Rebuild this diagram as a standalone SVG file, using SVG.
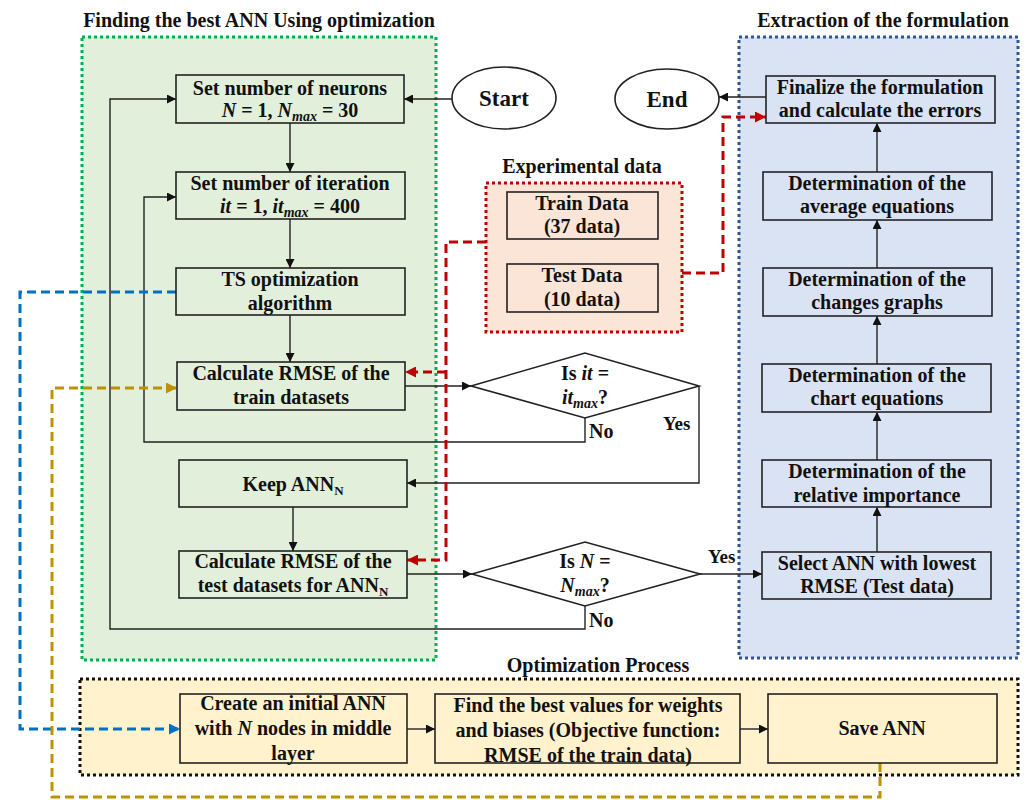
<svg xmlns="http://www.w3.org/2000/svg" width="1026" height="800" viewBox="0 0 1026 800">
<defs>
<style>
text{font-family:"Liberation Serif","Times New Roman",serif;font-weight:bold;font-size:20px;fill:#111;text-anchor:middle}
.t{font-size:20px}
.it{font-style:italic}
.box{stroke:#222;stroke-width:1.6}
.cont{stroke-width:3;stroke-dasharray:3 3}
.ln{fill:none;stroke:#222;stroke-width:1.4}
.dash{fill:none;stroke-width:3;stroke-dasharray:9 5}
.lbl{text-anchor:start}
</style>
<marker id="ah" viewBox="0 0 10 10" refX="10" refY="5" markerWidth="10" markerHeight="9" markerUnits="userSpaceOnUse" orient="auto"><path d="M0,0 L10,5 L0,10 z" fill="#111"/></marker>
<marker id="ahb" viewBox="0 0 10 10" refX="10" refY="5" markerWidth="12" markerHeight="11" markerUnits="userSpaceOnUse" orient="auto"><path d="M0,0 L10,5 L0,10 z" fill="#0070c0"/></marker>
<marker id="ahr" viewBox="0 0 10 10" refX="10" refY="5" markerWidth="12" markerHeight="11" markerUnits="userSpaceOnUse" orient="auto"><path d="M0,0 L10,5 L0,10 z" fill="#c00000"/></marker>
<marker id="ahg" viewBox="0 0 10 10" refX="10" refY="5" markerWidth="12" markerHeight="11" markerUnits="userSpaceOnUse" orient="auto"><path d="M0,0 L10,5 L0,10 z" fill="#bf9000"/></marker>
</defs>
<rect width="1026" height="800" fill="#fff"/>

<g id="containers">
<g id="c-finding">
<rect class="cont" x="82" y="37" width="354" height="623" fill="#e2efda" stroke="#00b050"/>
<text x="259" y="27">Finding the best ANN Using optimization</text>
</g>
<g id="c-extraction">
<rect class="cont" x="739" y="37" width="279" height="621" fill="#dae3f3" stroke="#2f5597"/>
<text x="883" y="27">Extraction of the formulation</text>
</g>
<g id="c-experimental">
<rect class="cont" x="486" y="183" width="196" height="149" fill="#fbe5d6" stroke="#c00000"/>
<text x="582" y="173">Experimental data</text>
</g>
<g id="c-optimization">
<rect class="cont" x="80" y="679" width="938" height="96" fill="#fff2cc" stroke="#111"/>
<text x="598" y="672">Optimization Process</text>
</g>
</g>

<g id="connectors">
<line class="ln" x1="452" y1="99" x2="404" y2="99" marker-end="url(#ah)"/>
<line class="ln" x1="290" y1="123" x2="290" y2="172" marker-end="url(#ah)"/>
<line class="ln" x1="290" y1="219" x2="290" y2="268" marker-end="url(#ah)"/>
<line class="ln" x1="290" y1="315" x2="290" y2="362" marker-end="url(#ah)"/>
<line class="ln" x1="405" y1="386" x2="471" y2="386" marker-end="url(#ah)"/>
<polyline class="ln" points="585,418 585,442 144,442 144,197 176,197" marker-end="url(#ah)"/>
<polyline class="ln" points="699,386 699,483 407,483" marker-end="url(#ah)"/>
<line class="ln" x1="293" y1="507" x2="293" y2="551" marker-end="url(#ah)"/>
<line class="ln" x1="407" y1="574" x2="472" y2="574" marker-end="url(#ah)"/>
<polyline class="ln" points="585,606 585,629 110,629 110,99 176,99" marker-end="url(#ah)"/>
<line class="ln" x1="700" y1="574" x2="762" y2="574" marker-end="url(#ah)"/>
<line class="ln" x1="877" y1="552" x2="877" y2="507" marker-end="url(#ah)"/>
<line class="ln" x1="877" y1="460" x2="877" y2="412" marker-end="url(#ah)"/>
<line class="ln" x1="877" y1="364" x2="877" y2="316" marker-end="url(#ah)"/>
<line class="ln" x1="877" y1="268" x2="877" y2="220" marker-end="url(#ah)"/>
<line class="ln" x1="877" y1="172" x2="877" y2="123" marker-end="url(#ah)"/>
<line class="ln" x1="766" y1="97" x2="719" y2="97" marker-end="url(#ah)"/>
<line class="ln" x1="407" y1="729" x2="435" y2="729" marker-end="url(#ah)"/>
<line class="ln" x1="740" y1="729" x2="768" y2="729" marker-end="url(#ah)"/>
<polyline class="dash" stroke="#0070c0" points="176,292 20,292 20,729 180,729" marker-end="url(#ahb)"/>
<polyline class="dash" stroke="#c00000" points="486,242 446,242 446,560 407,560" marker-end="url(#ahr)"/>
<polyline class="dash" stroke="#c00000" points="446,372 405,372" marker-end="url(#ahr)"/>
<polyline class="dash" stroke="#c00000" points="682,273 723,273 723,117 766,117" marker-end="url(#ahr)"/>
<polyline class="dash" stroke="#bf9000" points="880,763 880,797 52,797 52,388 177,388" marker-end="url(#ahg)"/>
<text class="lbl" x="589" y="438">No</text>
<text class="lbl" x="663" y="430" style="font-size:19px">Yes</text>
<text class="lbl" x="589" y="627">No</text>
<text class="lbl" x="708" y="563" style="font-size:19px">Yes</text>
</g>

<g id="start">
<ellipse cx="504" cy="98" rx="52" ry="31" fill="#fff" stroke="#222" stroke-width="1.6"/>
<text x="504" y="106" style="font-size:23px">Start</text>
</g>
<g id="end">
<ellipse cx="667" cy="99" rx="52" ry="30" fill="#fff" stroke="#222" stroke-width="1.6"/>
<text x="667" y="107" style="font-size:23px">End</text>
</g>

<g id="set-neurons">
<rect class="box" x="176" y="75" width="228" height="48" fill="#e2efda"/>
<text x="290" y="95">Set number of neurons</text>
<text x="290" y="117"><tspan class="it">N</tspan> = 1, <tspan class="it">N</tspan><tspan class="it" style="font-size:14px" dy="4">max</tspan><tspan dy="-4"> = 30</tspan></text>
</g>
<g id="set-iteration">
<rect class="box" x="176" y="172" width="229" height="47" fill="#e2efda"/>
<text x="290" y="190">Set number of iteration</text>
<text x="290" y="213"><tspan class="it">it</tspan> = 1, <tspan class="it">it</tspan><tspan class="it" style="font-size:14px" dy="4">max</tspan><tspan dy="-4"> = 400</tspan></text>
</g>
<g id="ts">
<rect class="box" x="176" y="268" width="229" height="47" fill="#e2efda"/>
<text x="290" y="286">TS optimization</text>
<text x="290" y="310">algorithm</text>
</g>
<g id="rmse-train">
<rect class="box" x="177" y="362" width="228" height="48" fill="#e2efda"/>
<text x="291" y="380">Calculate RMSE of the</text>
<text x="291" y="404">train datasets</text>
</g>
<g id="keep">
<rect class="box" x="179" y="460" width="228" height="47" fill="#e2efda"/>
<text x="293" y="491">Keep ANN<tspan style="font-size:13px" dy="4">N</tspan></text>
</g>
<g id="rmse-test">
<rect class="box" x="179" y="551" width="228" height="47" fill="#e2efda"/>
<text x="293" y="568">Calculate RMSE of the</text>
<text x="293" y="592">test datasets for ANN<tspan style="font-size:13px" dy="4">N</tspan></text>
</g>

<g id="dec-it">
<polygon points="471,386 585,353 699,386 585,418" fill="#fff" stroke="#222" stroke-width="1.6"/>
<text x="585" y="380">Is <tspan class="it">it</tspan> =</text>
<text x="585" y="404"><tspan class="it">it</tspan><tspan class="it" style="font-size:14px" dy="4">max</tspan><tspan dy="-4">?</tspan></text>
</g>
<g id="dec-n">
<polygon points="472,574 585,542 700,574 585,606" fill="#fff" stroke="#222" stroke-width="1.6"/>
<text x="585" y="568">Is <tspan class="it">N</tspan> =</text>
<text x="585" y="592"><tspan class="it">N</tspan><tspan class="it" style="font-size:14px" dy="4">max</tspan><tspan dy="-4">?</tspan></text>
</g>

<g id="train-data">
<rect class="box" x="507" y="192" width="151" height="47" fill="#fbe5d6"/>
<text x="582" y="210">Train Data</text>
<text x="582" y="233">(37 data)</text>
</g>
<g id="test-data">
<rect class="box" x="507" y="264" width="151" height="48" fill="#fbe5d6"/>
<text x="582" y="282">Test Data</text>
<text x="582" y="306">(10 data)</text>
</g>

<g id="finalize">
<rect class="box" x="766" y="76" width="229" height="47" fill="#dae3f3"/>
<text x="880" y="94">Finalize the formulation</text>
<text x="880" y="117">and calculate the errors</text>
</g>
<g id="average">
<rect class="box" x="763" y="172" width="229" height="48" fill="#dae3f3"/>
<text x="877" y="190">Determination of the</text>
<text x="877" y="213">average equations</text>
</g>
<g id="changes">
<rect class="box" x="763" y="268" width="229" height="48" fill="#dae3f3"/>
<text x="877" y="286">Determination of the</text>
<text x="877" y="309">changes graphs</text>
</g>
<g id="chart">
<rect class="box" x="762" y="364" width="229" height="48" fill="#dae3f3"/>
<text x="877" y="382">Determination of the</text>
<text x="877" y="405">chart equations</text>
</g>
<g id="relative">
<rect class="box" x="762" y="460" width="229" height="47" fill="#dae3f3"/>
<text x="877" y="478">Determination of the</text>
<text x="877" y="502">relative importance</text>
</g>
<g id="select">
<rect class="box" x="762" y="552" width="229" height="47" fill="#dae3f3"/>
<text x="877" y="570">Select ANN with lowest</text>
<text x="877" y="593">RMSE (Test data)</text>
</g>

<g id="create">
<rect class="box" x="180" y="694" width="227" height="69" fill="#fff2cc"/>
<text x="293" y="710">Create an initial ANN</text>
<text x="293" y="735">with <tspan class="it">N</tspan> nodes in middle</text>
<text x="293" y="760">layer</text>
</g>
<g id="find">
<rect class="box" x="435" y="694" width="305" height="69" fill="#fff2cc"/>
<text x="588" y="712">Find the best values for weights</text>
<text x="588" y="737">and biases (Objective function:</text>
<text x="588" y="762">RMSE of the train data)</text>
</g>
<g id="save">
<rect class="box" x="768" y="694" width="229" height="69" fill="#fff2cc"/>
<text x="882" y="735">Save ANN</text>
</g>
</svg>
